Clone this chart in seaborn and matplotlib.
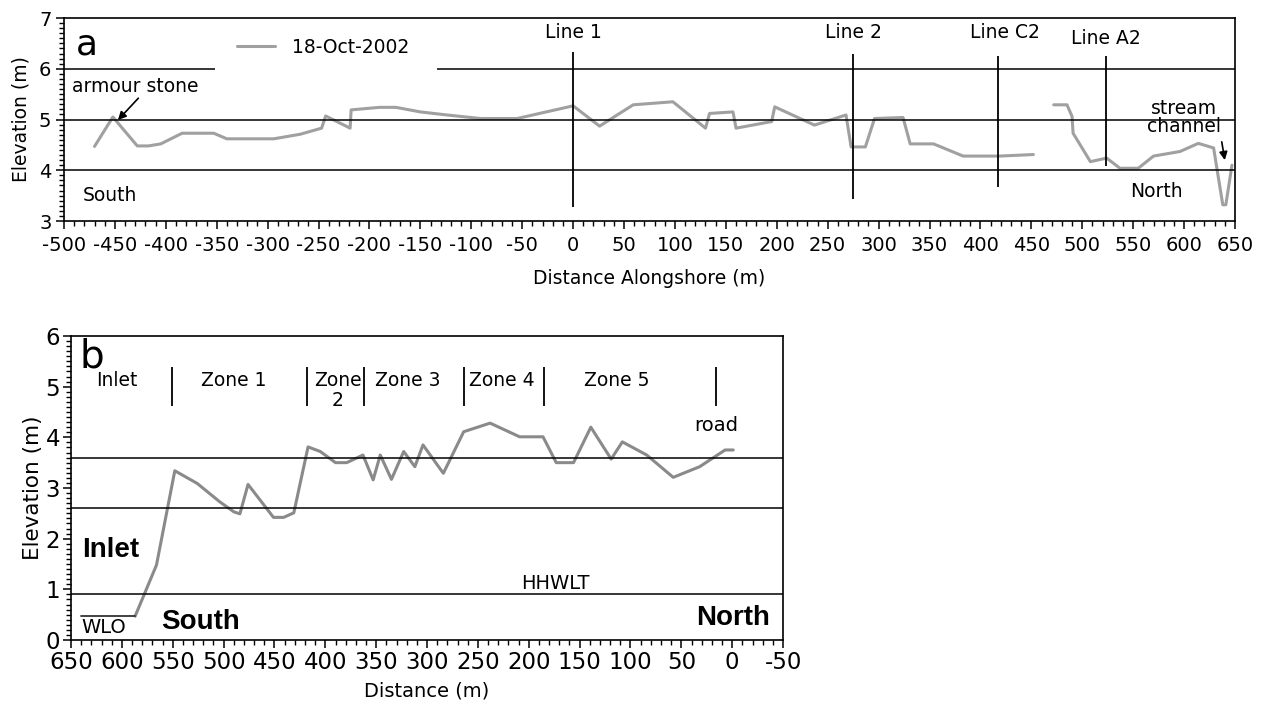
import numpy as np
import matplotlib
matplotlib.use("Agg")
import matplotlib.pyplot as plt
from matplotlib.ticker import MultipleLocator
import seaborn as sns

# panel a: alongshore profile, 18 Oct 2002 (two surveyed stretches)
a1_x = [-470, -452, -428, -417, -405, -384, -353, -340, -294, -268, -247, -243, -219, -218,
        -190, -174, -150, -124, -91, -55, 0, 26, 59, 98, 130, 134, 157, 160, 195, 198, 237,
        268, 273, 287, 296, 324, 331, 354, 383, 419, 452]
a1_z = [4.47, 5.05, 4.48, 4.48, 4.52, 4.73, 4.73, 4.62, 4.62, 4.71, 4.83, 5.07, 4.83, 5.19,
        5.24, 5.24, 5.15, 5.09, 5.02, 5.02, 5.27, 4.87, 5.29, 5.35, 4.83, 5.12, 5.15, 4.83,
        4.96, 5.25, 4.89, 5.09, 4.46, 4.46, 5.02, 5.04, 4.52, 4.52, 4.28, 4.28, 4.31]
a2_x = [472, 485, 490, 491, 508, 524, 537, 555, 570, 596, 614, 629, 638, 641, 647]
a2_z = [5.29, 5.29, 5.06, 4.73, 4.17, 4.24, 4.04, 4.04, 4.28, 4.37, 4.53, 4.44, 3.32, 3.32, 4.10]

# survey lines in panel a
line_names = ["Line 1", "Line 2", "Line C2", "Line A2"]
line_x = [0, 275, 417, 523]
line_bot = [3.28, 3.43, 3.67, 4.08]
line_top = [6.33, 6.3, 6.25, 6.25]
line_lab_x = [0, 275, 424, 523]
line_lab_y = [6.72, 6.72, 6.72, 6.6]

# reference levels in panel a (6 m line broken by the legend)
ref_a_y = [6, 6, 5, 4]
ref_a_x0 = [-500, -134, -500, -500]
ref_a_x1 = [-352, 650, 650, 650]

# panel b: cross-inlet profile
b_x = [587, 566, 548, 526, 504, 490, 484, 476, 451, 441, 431, 417, 405, 390, 379, 363, 353,
       346, 335, 323, 312, 304, 284, 264, 238, 209, 186, 173, 156, 139, 119, 108, 84, 58,
       32, 7, -1]
b_z = [0.47, 1.48, 3.34, 3.09, 2.73, 2.53, 2.49, 3.07, 2.42, 2.42, 2.51, 3.81, 3.72, 3.50,
       3.50, 3.65, 3.16, 3.65, 3.17, 3.72, 3.42, 3.85, 3.29, 4.11, 4.28, 4.01, 4.01, 3.50,
       3.50, 4.20, 3.57, 3.91, 3.65, 3.21, 3.42, 3.75, 3.75]
wlo_x = [640, 587]
wlo_z = [0.47, 0.47]
ref_b = [3.6, 2.6, 0.9]
zone_div = [551, 418, 362, 264, 185, 16]
zone_names = ["Inlet", "Zone 1", "Zone\n2", "Zone 3", "Zone 4", "Zone 5"]
zone_x = [605, 490, 388, 319, 227, 114]

sns.set_theme(style="ticks")
plt.rcParams["font.family"] = ["DejaVu Sans"]
plt.rcParams["axes.unicode_minus"] = False
plt.rcParams["text.color"] = "black"
plt.rcParams["axes.labelcolor"] = "black"

fig = plt.figure(figsize=(12.62, 7.10), dpi=100)
ax1 = fig.add_axes([0.0507, 0.6887, 0.9279, 0.2859])
ax2 = fig.add_axes([0.0563, 0.0986, 0.5642, 0.4282])

grey_a = "#a0a0a0"
grey_b = "#8a8a8a"
arrow = dict(arrowstyle="-|>", color="black", lw=1.2, shrinkA=0, shrinkB=0, mutation_scale=12)

# ---- panel a
sns.lineplot(x=a1_x, y=a1_z, ax=ax1, color=grey_a, lw=2.2, sort=False, label="18-Oct-2002")
sns.lineplot(x=a2_x, y=a2_z, ax=ax1, color=grey_a, lw=2.2, sort=False)
ax1.hlines(ref_a_y, ref_a_x0, ref_a_x1, color="black", lw=1.1)
ax1.vlines(line_x, line_bot, line_top, color="black", lw=1.3)
for name, lx, ly in zip(line_names, line_lab_x, line_lab_y):
    ax1.text(lx, ly, name, ha="center", va="center", fontsize=13.5)

ax1.text(-488, 6.47, "a", fontsize=26, va="center", ha="left")
ax1.text(-430, 5.66, "armour stone", fontsize=13.5, ha="center", va="center")
ax1.annotate("", xy=(-447, 4.99), xytext=(-427, 5.42), arrowprops=arrow)
ax1.text(-455, 3.51, "South", fontsize=13.5, ha="center", va="center")
ax1.text(573, 3.58, "North", fontsize=13.5, ha="center", va="center")
ax1.text(600, 5.04, "stream\nchannel", fontsize=13.5, ha="center", va="center",
         linespacing=0.95)
ax1.annotate("", xy=(640, 4.2), xytext=(637, 4.56), arrowprops=arrow)

ax1.set_xlim(-500, 650)
ax1.set_ylim(3, 7)
ax1.xaxis.set_major_locator(MultipleLocator(50))
ax1.xaxis.set_minor_locator(MultipleLocator(10))
ax1.yaxis.set_major_locator(MultipleLocator(1))
ax1.yaxis.set_minor_locator(MultipleLocator(0.1))
ax1.set_xlabel("Distance Alongshore (m)", fontsize=13.5, labelpad=10)
ax1.set_ylabel("Elevation (m)", fontsize=13.5, labelpad=6)
ax1.tick_params(axis="both", which="major", labelsize=14, length=6, width=1.1, pad=3)
ax1.tick_params(axis="x", which="major", pad=5)
ax1.tick_params(axis="both", which="minor", length=3.5, width=1.0)
ax1.legend(loc="center left", bbox_to_anchor=(0.148, 0.857), frameon=False,
           fontsize=13.5, handlelength=2.0, handletextpad=0.9, borderpad=0, borderaxespad=0)

# ---- panel b
sns.lineplot(x=b_x, y=b_z, ax=ax2, color=grey_b, lw=2.2, sort=False)
sns.lineplot(x=wlo_x, y=wlo_z, ax=ax2, color="#333333", lw=1.3, sort=False)
ax2.hlines(ref_b, 650, -50, color="black", lw=1.1)
ax2.vlines(zone_div, 4.62, 5.38, color="black", lw=1.3)
for name, zx in zip(zone_names, zone_x):
    ax2.text(zx, 5.3, name, ha="center", va="top", fontsize=13.5, linespacing=1.05)

ax2.text(642, 5.6, "b", fontsize=28, va="center", ha="left")
ax2.text(16, 4.24, "road", fontsize=14, ha="center", va="center")
ax2.text(174, 1.12, "HHWLT", fontsize=14, ha="center", va="center")
ax2.text(618, 0.24, "WLO", fontsize=14, ha="center", va="center")
ax2.text(611, 1.78, "Inlet", fontsize=20, fontweight="bold", ha="center", va="center",
         family=["Liberation Sans"])
ax2.text(523, 0.36, "South", fontsize=20, fontweight="bold", ha="center", va="center",
         family=["Liberation Sans"])
ax2.text(-37, 0.43, "North", fontsize=20, fontweight="bold", ha="right", va="center",
         family=["Liberation Sans"])

ax2.set_xlim(650, -50)
ax2.set_ylim(0, 6)
ax2.xaxis.set_major_locator(MultipleLocator(50))
ax2.xaxis.set_minor_locator(MultipleLocator(10))
ax2.yaxis.set_major_locator(MultipleLocator(1))
ax2.yaxis.set_minor_locator(MultipleLocator(0.1))
ax2.set_xlabel("Distance (m)", fontsize=14, labelpad=5)
ax2.set_ylabel("Elevation (m)", fontsize=15.5, labelpad=2)
ax2.tick_params(axis="both", which="major", labelsize=16.5, length=6, width=1.1, pad=2)
ax2.tick_params(axis="both", which="minor", length=3.5, width=1.0)

for ax in (ax1, ax2):
    for sp in ax.spines.values():
        sp.set_visible(True)
        sp.set_linewidth(1.2)
        sp.set_color("black")
    ax.tick_params(which="both", colors="black")

fig.savefig("out.png", dpi=100)
